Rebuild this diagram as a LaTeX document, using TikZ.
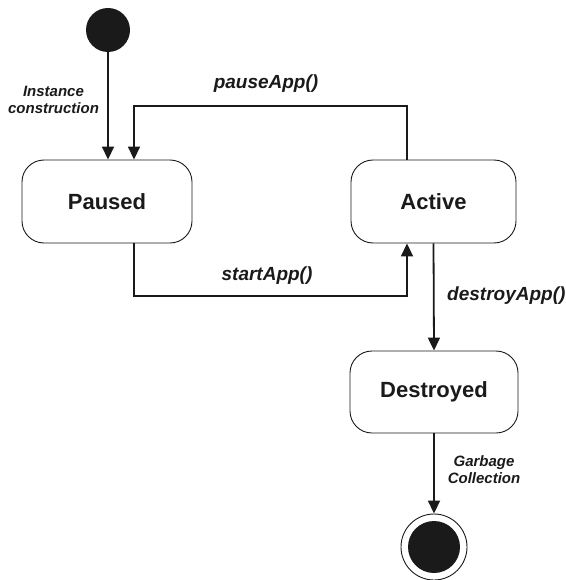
\documentclass[tikz,border=0pt]{standalone}
\usepackage{fontspec}
\setmainfont{Liberation Sans}
\usetikzlibrary{arrows.meta}
\definecolor{ink}{HTML}{1A1A1A}
\begin{document}
\begin{tikzpicture}[x=1pt,y=-1pt,
  state/.style={draw=ink, line width=0.9pt, rounded corners=22pt, fill=white,
    minimum width=170pt, minimum height=83pt, inner sep=0pt,
    font=\fontsize{22}{26}\selectfont\bfseries, text=ink},
  conn/.style={draw=ink, line width=1.8pt, -{Triangle[length=13pt,width=12pt]}},
  trans/.style={font=\fontsize{19}{22}\selectfont\bfseries\itshape, text=ink, inner sep=0pt},
  small/.style={font=\fontsize{15}{17}\selectfont\bfseries\itshape, text=ink, inner sep=0pt, align=center}]
\useasboundingbox (0,0) rectangle (565,580);

% states
\node[circle, fill=ink, minimum size=44pt, inner sep=0pt] (start) at (108,30) {};
\node[state] (paused) at (107,201.5) {Paused};
\node[state, minimum width=165pt] (active) at (433.5,201.5) {Active};
\node[state, minimum width=168pt, minimum height=82pt] (destroyed) at (434,392) {Destroyed};
\node[circle, draw=ink, line width=0.9pt, minimum size=66pt, inner sep=0pt] (final) at (434,547) {};
\node[circle, fill=ink, minimum size=52pt, inner sep=0pt] (finaldot) at (final.center) {};

% bend points of the two loop transitions
\coordinate (pauseL) at (134,106);
\coordinate (pauseR) at (407,106);
\coordinate (startL) at (134,296);
\coordinate (startR) at (407,296);

% transitions
\draw[conn] (start) -- (paused.north -| start);
\draw[conn] (active.north -| pauseR) -- (pauseR) -- (pauseL) -- (paused.north -| pauseL);
\draw[conn] (paused.south -| startL) -- (startL) -- (startR) -- (active.south -| startR);
\draw[conn] (active.south) -- (destroyed.north);
\draw[conn] (destroyed.south) -- (final.north);

% transition labels
\node[small] (lblinit) at (53.5,100) {Instance\\construction};
\node[trans] (lblpause) at (266,84) {pauseApp()};
\node[trans] (lblstart) at (267,276) {startApp()};
\node[trans, anchor=west] (lbldestroy) at (447,296) {destroyApp()};
\node[small] (lblgc) at (484,470) {Garbage\\Collection};
\end{tikzpicture}
\end{document}
